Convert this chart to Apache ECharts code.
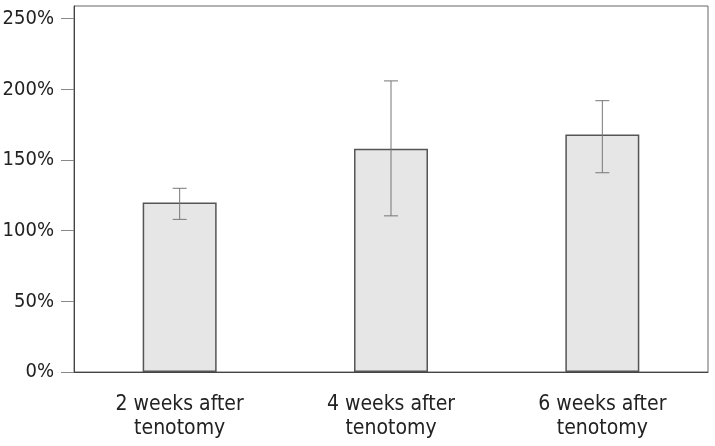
<!DOCTYPE html>
<html>
<head>
<meta charset="utf-8">
<script src="https://cdn.jsdelivr.net/npm/echarts@6/dist/echarts.min.js"></script>
<style>html,body{margin:0;padding:0;background:#fff}#c{width:715px;height:446px}</style>
</head>
<body>
<div id="c"></div>
<script>
var categories = ['2 weeks after\ntenotomy', '4 weeks after\ntenotomy', '6 weeks after\ntenotomy'];
var means = [120, 158, 168];
var errLow = [108, 110.5, 141];
var errHigh = [130, 206, 192];
var yTicks = [0, 50, 100, 150, 200, 250];

var FONT = "'Liberation Sans Narrow','DejaVu Sans Condensed','Roboto',sans-serif";
var chart = echarts.init(document.getElementById('c'));
var errData = categories.map(function (c, i) { return [i, errLow[i], errHigh[i]]; });

chart.setOption({
  animation: false,
  grid: { left: 74, right: 7, top: 6, bottom: 74, containLabel: false, outerBoundsMode: 'none', show: true, borderColor: '#666', borderWidth: 1, backgroundColor: 'transparent' },
  xAxis: {
    type: 'category', data: categories,
    axisLine: { lineStyle: { color: '#444', width: 1 } },
    axisTick: { show: false },
    axisLabel: { color: '#222', fontFamily: FONT, fontSize: 21, lineHeight: 24, margin: 21 }
  },
  yAxis: {
    type: 'value', min: 0, max: 259, interval: 50,
    axisLine: { show: true, lineStyle: { color: '#444', width: 1 } },
    axisTick: { show: true, length: 13, customValues: yTicks, lineStyle: { color: '#888', width: 1 } },
    axisLabel: { customValues: yTicks, formatter: '{value}%', color: '#222', fontFamily: FONT, fontSize: 20, margin: 20 },
    splitLine: { show: false }
  },
  series: [
    {
      type: 'bar', data: means, barWidth: '35%',
      itemStyle: { color: '#e6e6e6', borderColor: '#555', borderWidth: 1.5 }
    },
    {
      type: 'custom', data: errData, z: 10,
      renderItem: function (params, api) {
        var x = api.value(0);
        var lo = api.coord([x, api.value(1)]);
        var hi = api.coord([x, api.value(2)]);
        var hw = 7;
        var style = { stroke: '#777', lineWidth: 1 };
        return {
          type: 'group',
          children: [
            { type: 'line', shape: { x1: hi[0], y1: hi[1], x2: lo[0], y2: lo[1] }, style: style },
            { type: 'line', shape: { x1: hi[0] - hw, y1: hi[1], x2: hi[0] + hw, y2: hi[1] }, style: style },
            { type: 'line', shape: { x1: lo[0] - hw, y1: lo[1], x2: lo[0] + hw, y2: lo[1] }, style: style }
          ]
        };
      }
    }
  ]
});
</script>
</body>
</html>
